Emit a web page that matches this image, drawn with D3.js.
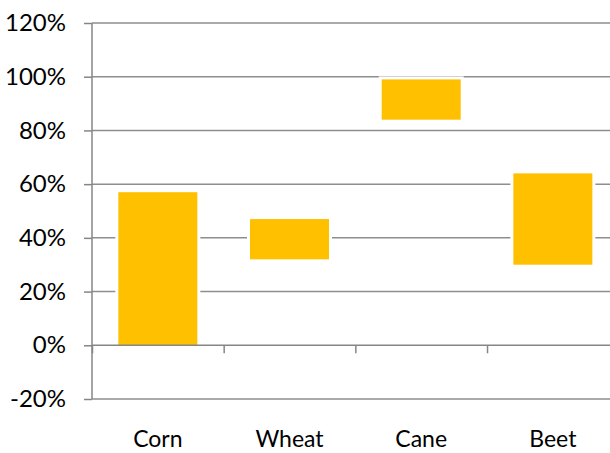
<!DOCTYPE html>
<html>
<head>
<meta charset="utf-8">
<script src="https://cdn.jsdelivr.net/npm/d3@7"></script>
<style>
  html, body { margin: 0; padding: 0; background: #fff; }
  svg { display: block; }
  text { font-family: Lato, "Open Sans", sans-serif; fill: #000; }
</style>
</head>
<body>
<svg id="chart" width="610" height="453"></svg>
<script>
// Floating range bars: each crop spans from its low to its high share.
const categories = ["Corn", "Wheat", "Cane", "Beet"];
const lowValues  = [0, 32, 84, 30];
const highValues = [57, 47, 99, 64];
const yTickValues = [-20, 0, 20, 40, 60, 80, 100, 120];

const plot = { left: 92, right: 618.7, top: 23, bottom: 399 };

const svg = d3.select("#chart");

const y = d3.scaleLinear().domain([-20, 120]).range([plot.bottom, plot.top]);
const x = d3.scaleBand()
  .domain(categories)
  .range([plot.left, plot.right])
  .paddingInner(0.4)
  .paddingOuter(0.2);
// Category boundaries for the tick marks along the zero line
const xBounds = d3.scaleLinear().domain([0, categories.length]).range([plot.left, plot.right]);

const gridColor = "#8e8e8e";
const axisColor = "#868686";

// Horizontal gridlines
svg.append("g")
  .selectAll("line")
  .data(yTickValues.filter(d => d !== 0))
  .join("line")
  .attr("x1", plot.left).attr("x2", plot.right)
  .attr("y1", d => y(d)).attr("y2", d => y(d))
  .attr("stroke", gridColor)
  .attr("stroke-width", 1.5);

const rows = categories.map((c, i) => ({ cat: c, lo: lowValues[i], hi: highValues[i] }));

// White halo under each bar interrupts the gridlines
const halo = 3;
svg.append("g")
  .selectAll("rect")
  .data(rows)
  .join("rect")
  .attr("x", d => x(d.cat) - halo)
  .attr("width", x.bandwidth() + 2 * halo)
  .attr("y", d => y(d.hi) - halo)
  .attr("height", d => y(d.lo) - y(d.hi) + 2 * halo)
  .attr("fill", "#fff");

// Bars
svg.append("g")
  .selectAll("rect")
  .data(rows)
  .join("rect")
  .attr("x", d => x(d.cat))
  .attr("width", x.bandwidth())
  .attr("y", d => y(d.hi))
  .attr("height", d => y(d.lo) - y(d.hi))
  .attr("fill", "#FFC000");

// Value axis on the left
const yAxis = svg.append("g")
  .attr("transform", `translate(${plot.left},0)`)
  .call(d3.axisLeft(y).tickValues(yTickValues).tickSize(8).tickPadding(18).tickFormat(d => d + "%"));
yAxis.select(".domain").remove();
yAxis.selectAll(".tick line").attr("stroke", axisColor).attr("stroke-width", 1.5);
yAxis.selectAll(".tick text")
  .style("font-family", "Lato, 'Open Sans', sans-serif")
  .style("font-size", "24px")
  .attr("fill", "#000");
yAxis.append("line")
  .attr("x1", 0).attr("x2", 0)
  .attr("y1", plot.top).attr("y2", plot.bottom)
  .attr("stroke", axisColor).attr("stroke-width", 1.5);

// Category axis along the zero line
const xAxis = svg.append("g")
  .attr("transform", `translate(0,${y(0)})`)
  .call(d3.axisBottom(xBounds).tickValues(d3.range(categories.length + 1)).tickSize(8).tickFormat(""));
xAxis.select(".domain").remove();
xAxis.selectAll(".tick line").attr("stroke", axisColor).attr("stroke-width", 1.5);
xAxis.append("line")
  .attr("x1", plot.left).attr("x2", plot.right)
  .attr("y1", 0).attr("y2", 0)
  .attr("stroke", axisColor).attr("stroke-width", 1.5);

// Category labels below the plot
svg.append("g")
  .selectAll("text")
  .data(categories)
  .join("text")
  .attr("x", d => x(d) + x.bandwidth() / 2)
  .attr("y", 447)
  .attr("text-anchor", "middle")
  .style("font-size", "23px")
  .text(d => d);
</script>
</body>
</html>
